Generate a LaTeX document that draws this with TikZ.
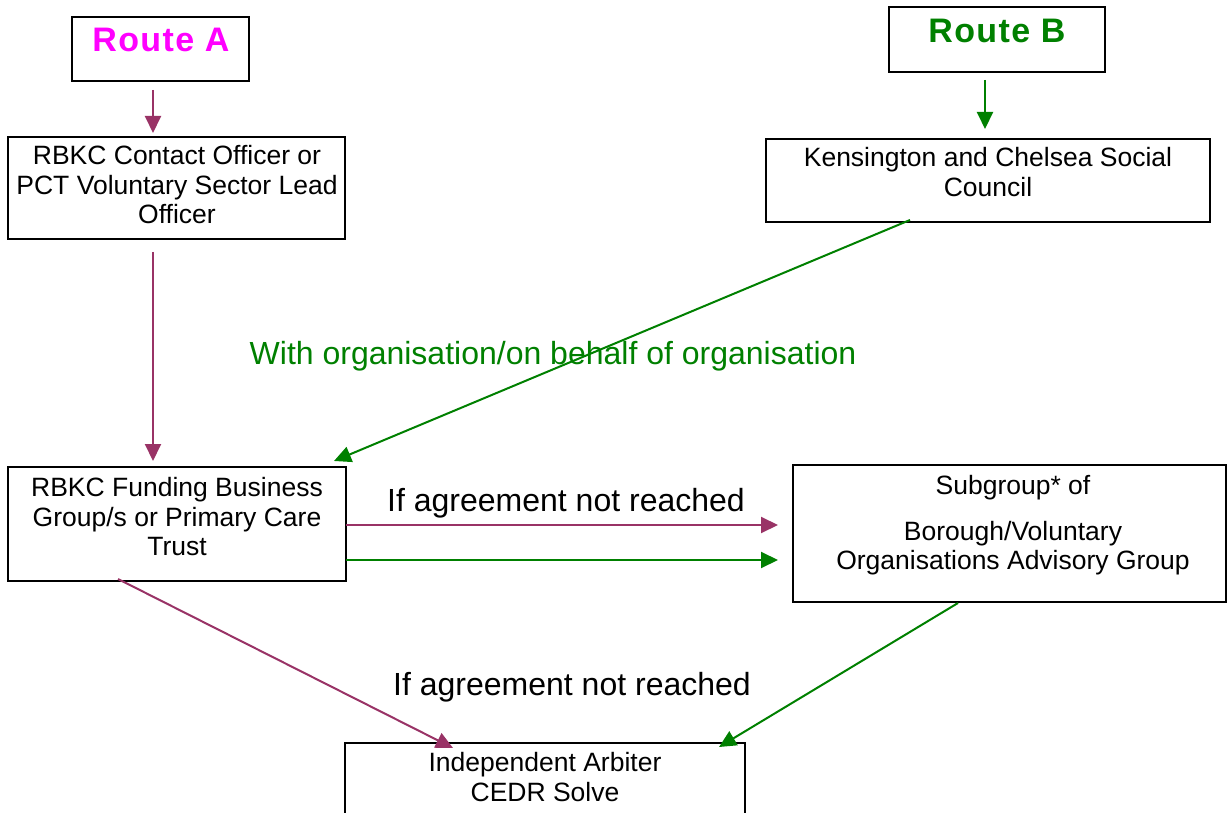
\documentclass[tikz,border=0pt]{standalone}
\usepackage{fontspec}
\setmainfont{Liberation Sans}
\usetikzlibrary{arrows.meta}
\definecolor{plum}{HTML}{993366}
\definecolor{grn}{HTML}{008000}
\definecolor{mag}{HTML}{FF00FF}
\tikzset{
  box/.style={draw=black, line width=2pt, inner sep=0pt, fill=white},
  txt/.style={align=center, inner sep=0pt, font=\fontsize{26.5}{29.5}\selectfont},
  big/.style={inner sep=0pt, font=\fontsize{32}{36}\selectfont},
  route/.style={inner sep=0pt, font=\fontsize{34}{36}\selectfont\bfseries\addfontfeature{LetterSpace=4}},
  parr/.style={draw=plum, line width=2pt, -{Triangle[length=17pt,width=16pt]}},
  garr/.style={draw=grn, line width=2pt, -{Triangle[length=17pt,width=16pt]}},
}
\begin{document}
\begin{tikzpicture}[x=1pt,y=-1pt]
\useasboundingbox (0,0) rectangle (1232,813);
% boxes
\node[box, minimum width=177, minimum height=64] (ra) at (160.5,49) {};
\node[box, minimum width=216, minimum height=65] (rb) at (997,39.5) {};
\node[box, minimum width=337, minimum height=102] (rc) at (176.5,188) {};
\node[box, minimum width=444, minimum height=83] (kc) at (988,180.5) {};
\node[box, minimum width=338, minimum height=114] (fb) at (177,524) {};
\node[box, minimum width=433, minimum height=137] (sg) at (1009.5,533.5) {};
\node[box, minimum width=400, minimum height=72] (ia) at (545,779) {};
% texts
\node[route, text=mag] (raT) at (161,40) {Route A};
\node[route, text=grn] (rbT) at (997,31) {Route B};
\node[txt] (rcT) at (177,185) {RBKC Contact Officer or\\PCT Voluntary Sector Lead\\Officer};
\node[txt] (kcT) at (988,172) {Kensington and Chelsea Social\\Council};
\node[txt] (fbT) at (177,517) {RBKC Funding Business\\Group/s or Primary Care\\Trust};
\node[txt] (sgT1) at (1013,488) {Subgroup* of};
\node[txt] (sgT2) at (1013,548) {Borough/Voluntary\\Organisations Advisory Group};
\node[txt] (iaT) at (545,777) {Independent Arbiter\\CEDR Solve};
% labels
\node[big, text=grn] (lw) at (553,356) {With organisation/on behalf of organisation};
\node[big] (l1) at (566,503) {If agreement not reached};
\node[big] (l2) at (572,687) {If agreement not reached};
% connector end points
\coordinate (a1) at (153,90);
\coordinate (a2) at (153,133);
\coordinate (b1) at (985,80);
\coordinate (b2) at (985,129);
\coordinate (c1) at (153,252);
\coordinate (c2) at (153,461);
\coordinate (k1) at (910,220);
\coordinate (k2) at (334,461);
\coordinate (f1) at (346,525);
\coordinate (f2) at (778,525);
\coordinate (f3) at (346,560);
\coordinate (f4) at (778,560);
\coordinate (f5) at (118,579);
\coordinate (f6) at (453,748);
\coordinate (s1) at (958,603);
\coordinate (s2) at (719,747);
% connectors
\draw[parr] (a1) -- (a2);
\draw[garr] (b1) -- (b2);
\draw[parr] (c1) -- (c2);
\draw[garr] (k1) -- (k2);
\draw[parr] (f1) -- (f2);
\draw[garr] (f3) -- (f4);
\draw[parr] (f5) -- (f6);
\draw[garr] (s1) -- (s2);
\end{tikzpicture}
\end{document}
